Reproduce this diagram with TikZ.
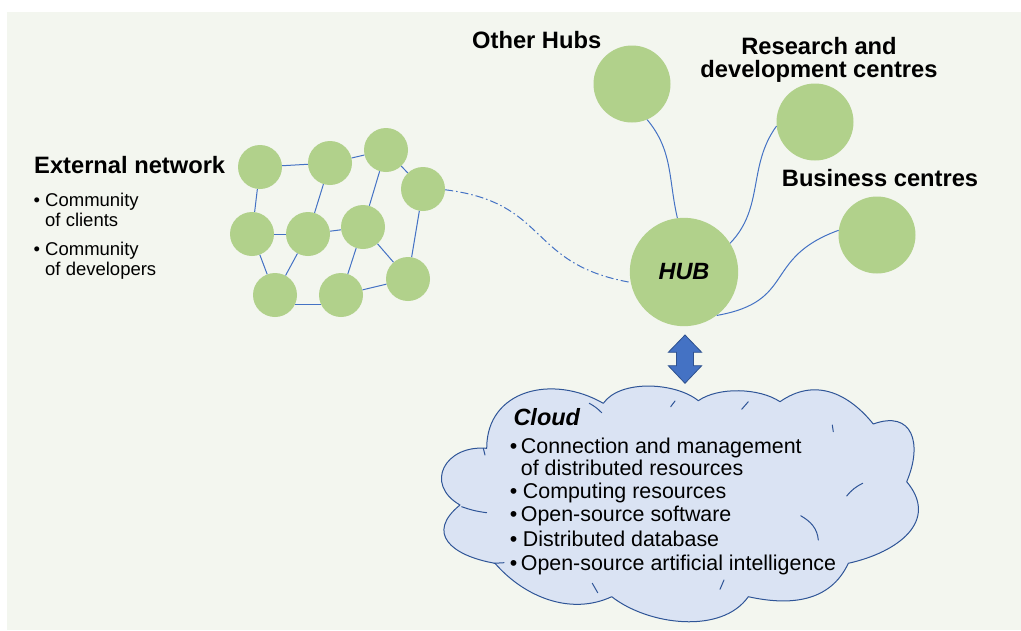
\documentclass[tikz,border=0pt]{standalone}
\usepackage{fontspec}
\setmainfont{Liberation Sans}
\definecolor{bgcol}{RGB}{243,246,239}
\definecolor{puffgreen}{RGB}{177,209,139}
\definecolor{linkblue}{RGB}{68,114,196}
\definecolor{cloudfill}{RGB}{218,227,243}
\definecolor{cloudline}{RGB}{47,85,151}
\definecolor{arrowline}{RGB}{47,82,143}
\begin{document}
\begin{tikzpicture}[x=1pt,y=1pt,
  dot/.style={circle,fill=puffgreen,inner sep=0pt,minimum size=44pt},
  bigdot/.style={circle,fill=puffgreen,inner sep=0pt,minimum size=77pt},
  hubdot/.style={circle,fill=puffgreen,inner sep=0pt,minimum size=108.4pt,
    font=\fontsize{23.5}{28}\selectfont\bfseries\itshape},
  link/.style={draw=linkblue,line width=1pt},
  dashdotlink/.style={link,dash pattern={on 8pt off 3pt on 1.5pt off 3pt}},
  ttl/.style={inner sep=0pt,anchor=base west,font=\fontsize{23.7}{28}\selectfont\bfseries},
  sidetxt/.style={inner sep=0pt,anchor=base west,font=\fontsize{18.5}{22}\selectfont},
  cloudtxt/.style={inner sep=0pt,anchor=base west,font=\fontsize{21.4}{25}\selectfont},
  cloudshape/.style={fill=cloudfill,draw=cloudline,line width=1pt,line join=round},
  stub/.style={draw=cloudline,line width=1pt,line cap=round}]

% page and background
\useasboundingbox (0,0) rectangle (1021,-630);
\fill[white] (0,0) rectangle (1021,-630);
\fill[bgcol] (7,-12) rectangle (1021,-630);

% external network
\node[dot] (n1) at (260,-167) {};
\node[dot] (n2) at (330,-163) {};
\node[dot] (n3) at (386,-150) {};
\node[dot] (n4) at (423,-189) {};
\node[dot] (n5) at (252,-234) {};
\node[dot] (n6) at (308,-234) {};
\node[dot] (n7) at (363,-227) {};
\node[dot] (n8) at (275,-295) {};
\node[dot] (n9) at (341,-295) {};
\node[dot] (n10) at (408,-279) {};
\draw[link] (n1) -- (n2);
\draw[link] (n2) -- (n3);
\draw[link] (n3) -- (n4);
\draw[link] (n1) -- (n5);
\draw[link] (n2) -- (n6);
\draw[link] (n3) -- (n7);
\draw[link] (n4) -- (n10);
\draw[link] (n5) -- (n6);
\draw[link] (n6) -- (n7);
\draw[link] (n5) -- (n8);
\draw[link] (n6) -- (n8);
\draw[link] (n7) -- (n9);
\draw[link] (n7) -- (n10);
\draw[link] (n8.-25) -- (n9.-155);
\draw[link] (n9) -- (n10);

% hub and its partners
\node[hubdot] (hub) at (684,-272) {HUB};
\node[bigdot] (oh) at (632,-84) {};
\node[bigdot] (rd) at (815,-122) {};
\node[bigdot] (bc) at (877,-235) {};
\draw[link] (oh.-67) to[out=-50,in=103] (hub.97);
\draw[link] (rd.186) to[out=-126,in=46] (hub.32);
\draw[link] (bc.173) to[out=-160,in=10,looseness=1.4] (hub.-53);
\draw[dashdotlink] (n4.-2) to[out=-7,in=170,looseness=1.3] (hub.191);

% labels
\node[ttl] (tOther) at (472,-48) {Other Hubs};
\node[ttl,anchor=base] (tRD1) at (819,-54) {Research and};
\node[ttl,anchor=base] (tRD2) at (819,-77.3) {development centres};
\node[ttl] (tBus) at (781.7,-186.7) {Business centres};
\node[ttl] (tExt) at (34,-173.3) {External network};
\node[sidetxt] (b1) at (33.5,-206) {•};
\node[sidetxt] (s1) at (45,-206) {Community};
\node[sidetxt] (s2) at (45,-226) {of clients};
\node[sidetxt] (b2) at (33.5,-255) {•};
\node[sidetxt] (s3) at (45,-255) {Community};
\node[sidetxt] (s4) at (45,-275) {of developers};

% two-way arrow between hub and cloud
\draw[fill=linkblue,draw=arrowline,line width=0.8pt,line join=miter]
  (685,-335) -- (701.7,-352.3) -- (693.5,-352.3) -- (693.5,-365.7)
  -- (701.7,-365.7) -- (685,-383.3) -- (668.3,-365.7) -- (676.5,-365.7)
  -- (676.5,-352.3) -- (668.3,-352.3) -- cycle;

% cloud: notches between the puffs
\coordinate (cP1) at (603.3,-403.3);
\coordinate (cP2) at (698.3,-400.7);
\coordinate (cP3) at (780,-401.7);
\coordinate (cP4) at (873.3,-424);
\coordinate (cP5) at (906.7,-481.7);
\coordinate (cP6) at (848.3,-563.3);
\coordinate (cP7) at (748.3,-596.7);
\coordinate (cP8) at (611.7,-596.7);
\coordinate (cP9) at (495,-563.3);
\coordinate (cP10) at (460,-505);
\coordinate (cP11) at (486.7,-448.3);

% cloud outline, one curve per puff
\path[cloudshape] (cP11)
  to[out=90,in=150,looseness=1.2] (cP1)
  to[out=55,in=141,looseness=0.79] (cP2)
  to[out=35,in=146,looseness=0.77] (cP3)
  to[out=35,in=129,looseness=1.1] (cP4)
  to[out=20,in=67,looseness=1.6] (cP5)
  to[out=-50,in=12.5,looseness=1.3] (cP6)
  to[out=-115,in=-12.5,looseness=1.04] (cP7)
  to[out=-125,in=-38,looseness=0.87] (cP8)
  to[out=-155,in=-49,looseness=0.95] (cP9)
  to[out=170,in=-141,looseness=1.68] (cP10)
  to[out=150,in=175,looseness=1.71] (cP11)
  -- cycle;

% inner puff creases
\draw[stub] (589.3,-403.3) to[bend left=8] (601.7,-412.7);
\draw[stub] (670.7,-406.7) -- (675,-401);
\draw[stub] (741.7,-409.3) -- (748.3,-401.7);
\draw[stub] (832.3,-425) -- (833.3,-431.7);
\draw[stub] (846.7,-496) to[bend left=12] (862.7,-483.3);
\draw[stub] (800.7,-515.7) to[out=-30,in=95] (818.3,-540);
\draw[stub] (720,-589.3) -- (724,-580);
\draw[stub] (592.3,-583.3) -- (597.7,-592.7);
\draw[stub] (494,-563.3) -- (504,-562.7);
\draw[stub] (461.7,-506.7) to[bend right=6] (486.7,-512.7);
\draw[stub] (483.3,-448.3) -- (485,-455);

% cloud text
\node[cloudtxt,font=\fontsize{23.5}{28}\selectfont\bfseries\itshape] (cTitle) at (513.3,-425) {Cloud};
\node[cloudtxt] (cb1) at (509.7,-453.3) {•};
\node[cloudtxt] (c1) at (520.7,-453.3) {Connection and management};
\node[cloudtxt] (c1b) at (520.7,-475) {of distributed resources};
\node[cloudtxt] (cb2) at (509.7,-498.3) {•};
\node[cloudtxt] (c2) at (522.7,-498.3) {Computing resources};
\node[cloudtxt] (cb3) at (509.7,-521.7) {•};
\node[cloudtxt] (c3) at (520.7,-521.7) {Open-source software};
\node[cloudtxt] (cb4) at (509.7,-546) {•};
\node[cloudtxt] (c4) at (522.7,-546) {Distributed database};
\node[cloudtxt] (cb5) at (509.7,-570) {•};
\node[cloudtxt] (c5) at (520.7,-570) {Open-source artificial intelligence};
\end{tikzpicture}
\end{document}
